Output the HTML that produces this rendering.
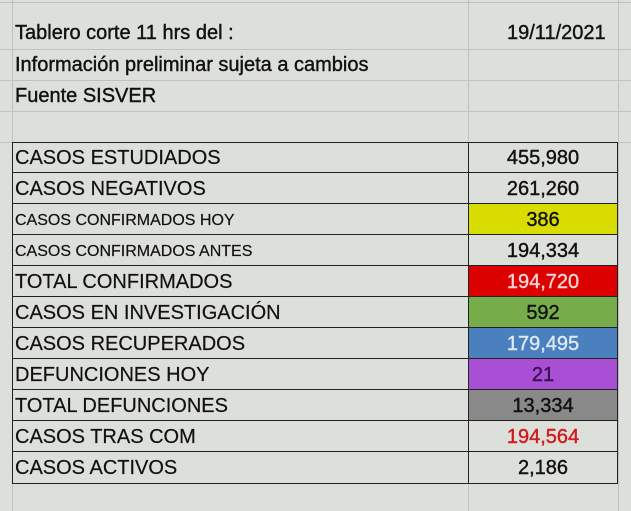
<!DOCTYPE html>
<html><head><meta charset="utf-8"><style>
body{margin:0;width:631px;height:511px;background:#dcdfda;position:relative;overflow:hidden;font-family:"Liberation Sans",Arial,sans-serif;color:#111}
.g{position:absolute;background:#bfc3bf}
.r{position:absolute;left:12px;width:606px;height:31px;box-sizing:border-box}
.l{position:absolute;left:3px;top:0;height:31px;line-height:33px;font-size:20px;white-space:nowrap;-webkit-text-stroke:0.2px #111}
.v{position:absolute;left:456px;width:148px;top:0;height:31px;line-height:33px;text-align:center;font-size:20px;-webkit-text-stroke:0.4px currentColor}
.t{position:absolute;left:15px;font-size:20px;line-height:31px;-webkit-text-stroke:0.4px #111}
</style></head><body>
<div class="g" style="left:12px;top:0;width:1px;height:511px"></div>
<div class="g" style="left:468px;top:0;width:1px;height:511px"></div>
<div class="g" style="left:618px;top:0;width:1px;height:511px"></div>
<div class="g" style="left:0;top:2px;width:631px;height:1px"></div>
<div class="g" style="left:0;top:49px;width:631px;height:1px"></div>
<div class="g" style="left:0;top:80px;width:631px;height:1px"></div>
<div class="g" style="left:0;top:111px;width:631px;height:1px"></div>
<div class="g" style="left:0;top:142px;width:631px;height:1px"></div>
<div class="t" style="top:18px">Tablero corte 11 hrs del :</div>
<div class="t" style="top:18px;left:507px">19/11/2021</div>
<div class="t" style="top:50px">Información preliminar sujeta a cambios</div>
<div class="t" style="top:81px">Fuente SISVER</div>

<div style="position:absolute;left:12px;top:142px;width:606px;height:342px;border:1px solid #222;box-sizing:border-box"></div>

<div id="rows"></div>
<script>
var d=[["CASOS ESTUDIADOS","455,980","",""],["CASOS NEGATIVOS","261,260","",""],["CASOS CONFIRMADOS HOY","386","#d8dc00","",16],["CASOS CONFIRMADOS ANTES","194,334","","",16],["TOTAL CONFIRMADOS","194,720","#dc0000","#f6d2d2"],["CASOS EN INVESTIGACIÓN","592","#76ad4a",""],["CASOS RECUPERADOS","179,495","#4b80bf","#dde8f2"],["DEFUNCIONES HOY","21","#a84fd6","#3a1050"],["TOTAL DEFUNCIONES","13,334","#898989",""],["CASOS TRAS COM","194,564","","#d01a1a"],["CASOS ACTIVOS","2,186","",""]];
var h="";
d.forEach(function(r,i){var y=142+i*31;
h+='<div class="r" style="top:'+y+'px;border-bottom:'+(i<10?'1px solid #222':'none')+'">'
+'<div class="l" style="font-size:'+(r[4]||20)+'px">'+r[0]+'</div>'
+'<div class="v" style="background:'+(r[2]||'transparent')+';color:'+(r[3]||'#111')+';border-left:1px solid #222;height:'+(i<10?30:31)+'px">'+r[1]+'</div></div>';});
document.getElementById("rows").innerHTML=h;
</script>
</body></html>
